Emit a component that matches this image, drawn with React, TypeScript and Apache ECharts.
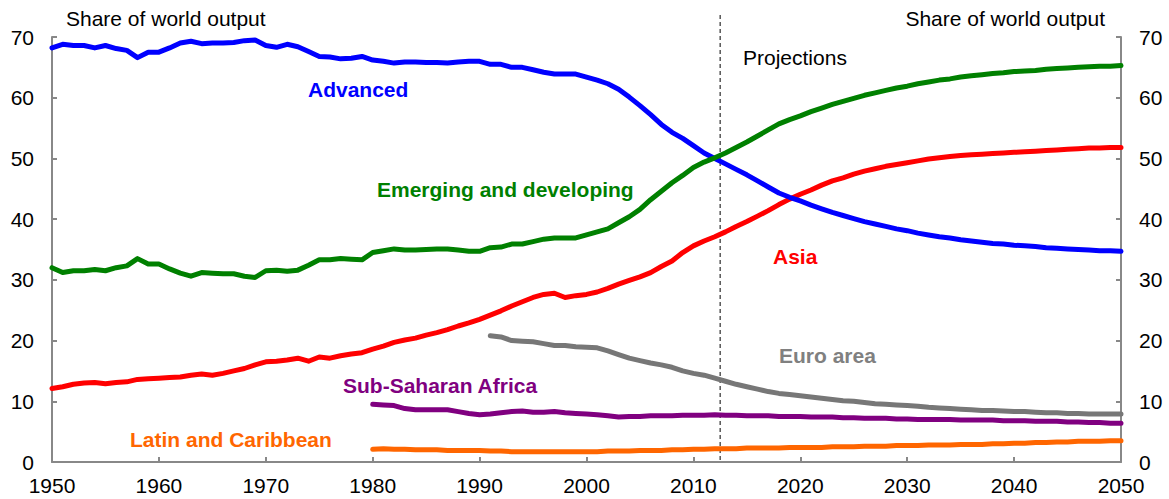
import React, { useEffect, useRef } from "react";
import * as echarts from "echarts";

const FONT = "Arial, 'Liberation Sans', Helvetica, sans-serif";

const ADV_START = 1950;
const advanced = [
  68.2, 68.8, 68.6, 68.6, 68.2, 68.6, 68.1, 67.8, 66.6, 67.5,
  67.5, 68.2, 69.0, 69.3, 68.9, 69.0, 69.0, 69.1, 69.4, 69.5,
  68.6, 68.3, 68.8, 68.4, 67.6, 66.8, 66.7, 66.4, 66.5, 66.8,
  66.2, 66.0, 65.7, 65.9, 65.9, 65.8, 65.8, 65.7, 65.9, 66.0,
  66.0, 65.5, 65.5, 65.0, 65.0, 64.6, 64.2, 63.9, 63.9, 63.9,
  63.4, 62.9, 62.3, 61.4, 60.1, 58.7, 57.2, 55.6, 54.3, 53.3,
  52.1, 50.9, 50.0, 49.1, 48.2, 47.3, 46.3, 45.3, 44.3, 43.6,
  43.0, 42.3, 41.7, 41.1, 40.6, 40.1, 39.6, 39.2, 38.8, 38.4,
  38.1, 37.7, 37.4, 37.1, 36.9, 36.6, 36.4, 36.2, 36.0, 35.9,
  35.7, 35.6, 35.5, 35.3, 35.2, 35.1, 35.0, 34.9, 34.8, 34.8,
  34.7,
];

const EM_START = 1950;
const emerging = [
  32.0, 31.2, 31.5, 31.5, 31.7, 31.5, 32.0, 32.3, 33.5, 32.6,
  32.6, 31.8, 31.1, 30.6, 31.2, 31.1, 31.0, 31.0, 30.6, 30.4,
  31.5, 31.6, 31.4, 31.6, 32.4, 33.3, 33.3, 33.5, 33.4, 33.3,
  34.5, 34.8, 35.1, 34.9, 34.9, 35.0, 35.1, 35.1, 34.9, 34.7,
  34.7, 35.3, 35.4, 35.9, 35.9, 36.3, 36.7, 36.9, 36.9, 36.9,
  37.4, 37.9, 38.4, 39.4, 40.4, 41.6, 43.2, 44.6, 46.0, 47.2,
  48.5, 49.4, 50.1, 50.9, 51.8, 52.7, 53.7, 54.7, 55.7, 56.4,
  57.0, 57.7, 58.3, 58.9, 59.4, 59.9, 60.4, 60.8, 61.2, 61.6,
  61.9, 62.3, 62.6, 62.9, 63.1, 63.4, 63.6, 63.8, 64.0, 64.1,
  64.3, 64.4, 64.5, 64.7, 64.8, 64.9, 65.0, 65.1, 65.2, 65.2,
  65.3,
];

const ASIA_START = 1950;
const asia = [
  12.1, 12.4, 12.8, 13.0, 13.1, 12.9, 13.1, 13.2, 13.6, 13.7,
  13.8, 13.9, 14.0, 14.3, 14.5, 14.3, 14.6, 15.0, 15.4, 16.0,
  16.5, 16.6, 16.8, 17.1, 16.6, 17.3, 17.1, 17.5, 17.8, 18.0,
  18.6, 19.1, 19.7, 20.1, 20.4, 20.9, 21.3, 21.8, 22.4, 22.9,
  23.5, 24.2, 24.9, 25.7, 26.4, 27.1, 27.6, 27.8, 27.1, 27.4,
  27.6, 28.0, 28.6, 29.3, 29.9, 30.5, 31.2, 32.2, 33.1, 34.5,
  35.6, 36.4, 37.1, 37.9, 38.8, 39.6, 40.5, 41.4, 42.4, 43.3,
  44.1, 44.8, 45.6, 46.3, 46.8, 47.4, 47.9, 48.3, 48.7, 49.0,
  49.3, 49.6, 49.9, 50.1, 50.3, 50.5, 50.6, 50.7, 50.8, 50.9,
  51.0, 51.1, 51.2, 51.3, 51.4, 51.5, 51.6, 51.7, 51.7, 51.8,
  51.8,
];

const EURO_START = 1991;
const euroArea = [
  20.8, 20.6, 20.0, 19.9, 19.8, 19.5, 19.2, 19.2, 19.0,
  18.9, 18.8, 18.3, 17.7, 17.1, 16.7, 16.3, 16.0, 15.6, 15.0,
  14.6, 14.3, 13.8, 13.3, 12.8, 12.4, 12.0, 11.6, 11.3, 11.1,
  10.9, 10.7, 10.5, 10.3, 10.1, 10.0, 9.8, 9.6, 9.5, 9.4,
  9.3, 9.2, 9.0, 8.9, 8.8, 8.7, 8.6, 8.5, 8.5, 8.4,
  8.3, 8.3, 8.2, 8.1, 8.1, 8.0, 8.0, 7.9, 7.9, 7.9,
  7.9,
];

const SSA_START = 1980;
const subSaharan = [
  9.5, 9.4, 9.3, 8.8, 8.6, 8.6, 8.6, 8.6, 8.3, 8.0,
  7.8, 7.9, 8.1, 8.3, 8.4, 8.2, 8.2, 8.3, 8.1, 8.0,
  7.9, 7.8, 7.6, 7.4, 7.5, 7.5, 7.6, 7.6, 7.6, 7.7,
  7.7, 7.7, 7.8, 7.7, 7.7, 7.6, 7.6, 7.6, 7.5, 7.5,
  7.5, 7.4, 7.4, 7.4, 7.3, 7.3, 7.2, 7.2, 7.2, 7.1,
  7.1, 7.0, 7.0, 7.0, 7.0, 6.9, 6.9, 6.9, 6.9, 6.8,
  6.8, 6.8, 6.7, 6.7, 6.7, 6.6, 6.6, 6.5, 6.5, 6.4,
  6.4,
];

const LAC_START = 1980;
const latinCaribbean = [
  2.1, 2.2, 2.1, 2.1, 2.0, 2.0, 2.0, 1.9, 1.9, 1.9,
  1.9, 1.8, 1.8, 1.7, 1.7, 1.7, 1.7, 1.7, 1.7, 1.7,
  1.7, 1.7, 1.8, 1.8, 1.8, 1.9, 1.9, 1.9, 2.0, 2.0,
  2.1, 2.1, 2.2, 2.2, 2.2, 2.3, 2.3, 2.3, 2.3, 2.4,
  2.4, 2.4, 2.4, 2.5, 2.5, 2.5, 2.6, 2.6, 2.6, 2.7,
  2.7, 2.7, 2.8, 2.8, 2.8, 2.9, 2.9, 2.9, 3.0, 3.0,
  3.1, 3.1, 3.2, 3.2, 3.3, 3.3, 3.4, 3.4, 3.4, 3.5,
  3.5,
];

const PROJECTION_START = 2012.5;
const X_MIN = 1950;
const X_MAX = 2050;
const Y_MIN = 0;
const Y_MAX = 70;

const seriesDefs = [
  { name: "Euro area", start: EURO_START, values: euroArea, color: "#777777" },
  { name: "Sub-Saharan Africa", start: SSA_START, values: subSaharan, color: "#800080" },
  { name: "Latin and Caribbean", start: LAC_START, values: latinCaribbean, color: "#FF6600" },
  { name: "Asia", start: ASIA_START, values: asia, color: "#FF0000" },
  { name: "Advanced", start: ADV_START, values: advanced, color: "#0000FF" },
  { name: "Emerging and developing", start: EM_START, values: emerging, color: "#008000" },
];

const labelDefs = [
  { text: "Advanced", x: 308, y: 89, color: "#0000FF" },
  { text: "Emerging and developing", x: 377, y: 189, color: "#008000" },
  { text: "Asia", x: 773, y: 256, color: "#FF0000" },
  { text: "Euro area", x: 779, y: 355, color: "#808080" },
  { text: "Sub-Saharan Africa", x: 343, y: 385, color: "#800080" },
  { text: "Latin and Caribbean", x: 130, y: 439, color: "#FF6600" },
];

export default function App() {
  const ref = useRef<HTMLDivElement>(null);

  useEffect(() => {
    if (!ref.current) return;
    const chart = echarts.init(ref.current, null, { renderer: "svg" });
    const axisColor = "#888888";
    const yAxisCommon = {
      type: "value" as const,
      min: Y_MIN,
      max: Y_MAX,
      interval: 10,
      splitLine: { show: false },
      axisLine: { show: true, lineStyle: { color: axisColor, width: 2 } },
      axisTick: { show: true, inside: true, length: 5, lineStyle: { color: axisColor, width: 2 } },
      axisLabel: { color: "#000", fontSize: 21, fontFamily: FONT, margin: 18 },
    };
    chart.setOption({
      animation: false,
      grid: { left: 52, right: 48, top: 37, bottom: 37, containLabel: false },
      xAxis: {
        type: "value",
        min: X_MIN,
        max: X_MAX,
        interval: 10,
        splitLine: { show: false },
        axisLine: { show: true, onZero: false, lineStyle: { color: axisColor, width: 2 } },
        axisTick: { show: true, inside: true, length: 5, lineStyle: { color: axisColor, width: 2 } },
        axisLabel: {
          color: "#000",
          fontSize: 21,
          fontFamily: FONT,
          margin: 13,
          formatter: (v: number) => String(v),
        },
      },
      yAxis: [
        { ...yAxisCommon, position: "left" },
        { ...yAxisCommon, position: "right" },
      ],
      series: seriesDefs.map((s) => ({
        name: s.name,
        type: "line",
        yAxisIndex: 0,
        showSymbol: false,
        symbol: "none",
        lineStyle: { color: s.color, width: 5, join: "round", cap: "round" },
        itemStyle: { color: s.color },
        data: s.values.map((v, i) => [s.start + i, v]),
        z: 3,
      })),
    });

    const px = chart.convertToPixel({ xAxisIndex: 0 }, PROJECTION_START) as number;
    const yBottom = chart.convertToPixel({ yAxisIndex: 0 }, Y_MIN) as number;

    chart.setOption({
      graphic: [
        {
          type: "line",
          shape: { x1: px, y1: 15, x2: px, y2: yBottom },
          style: { stroke: "#000", lineWidth: 1, lineDash: [4, 3] },
          z: 1,
        },
        {
          type: "text",
          style: { text: "Share of world output", x: 66, y: 18, fill: "#000", fontSize: 21, fontFamily: FONT, align: "left", verticalAlign: "middle" },
        },
        {
          type: "text",
          style: { text: "Share of world output", x: 1105, y: 18, fill: "#000", fontSize: 21, fontFamily: FONT, align: "right", verticalAlign: "middle" },
        },
        {
          type: "text",
          style: { text: "Projections", x: 743, y: 57, fill: "#000", fontSize: 21, fontFamily: FONT, align: "left", verticalAlign: "middle" },
        },
        ...labelDefs.map((l) => ({
          type: "text",
          style: {
            text: l.text,
            x: l.x,
            y: l.y,
            fill: l.color,
            fontSize: 21,
            fontWeight: "bold",
            fontFamily: FONT,
            align: "left",
            verticalAlign: "middle",
          },
        })),
      ],
    });

    return () => chart.dispose();
  }, []);

  return (
    <div
      ref={ref}
      style={{ position: "fixed", left: 0, top: 0, width: 1169, height: 499, background: "#fff" }}
    />
  );
}
